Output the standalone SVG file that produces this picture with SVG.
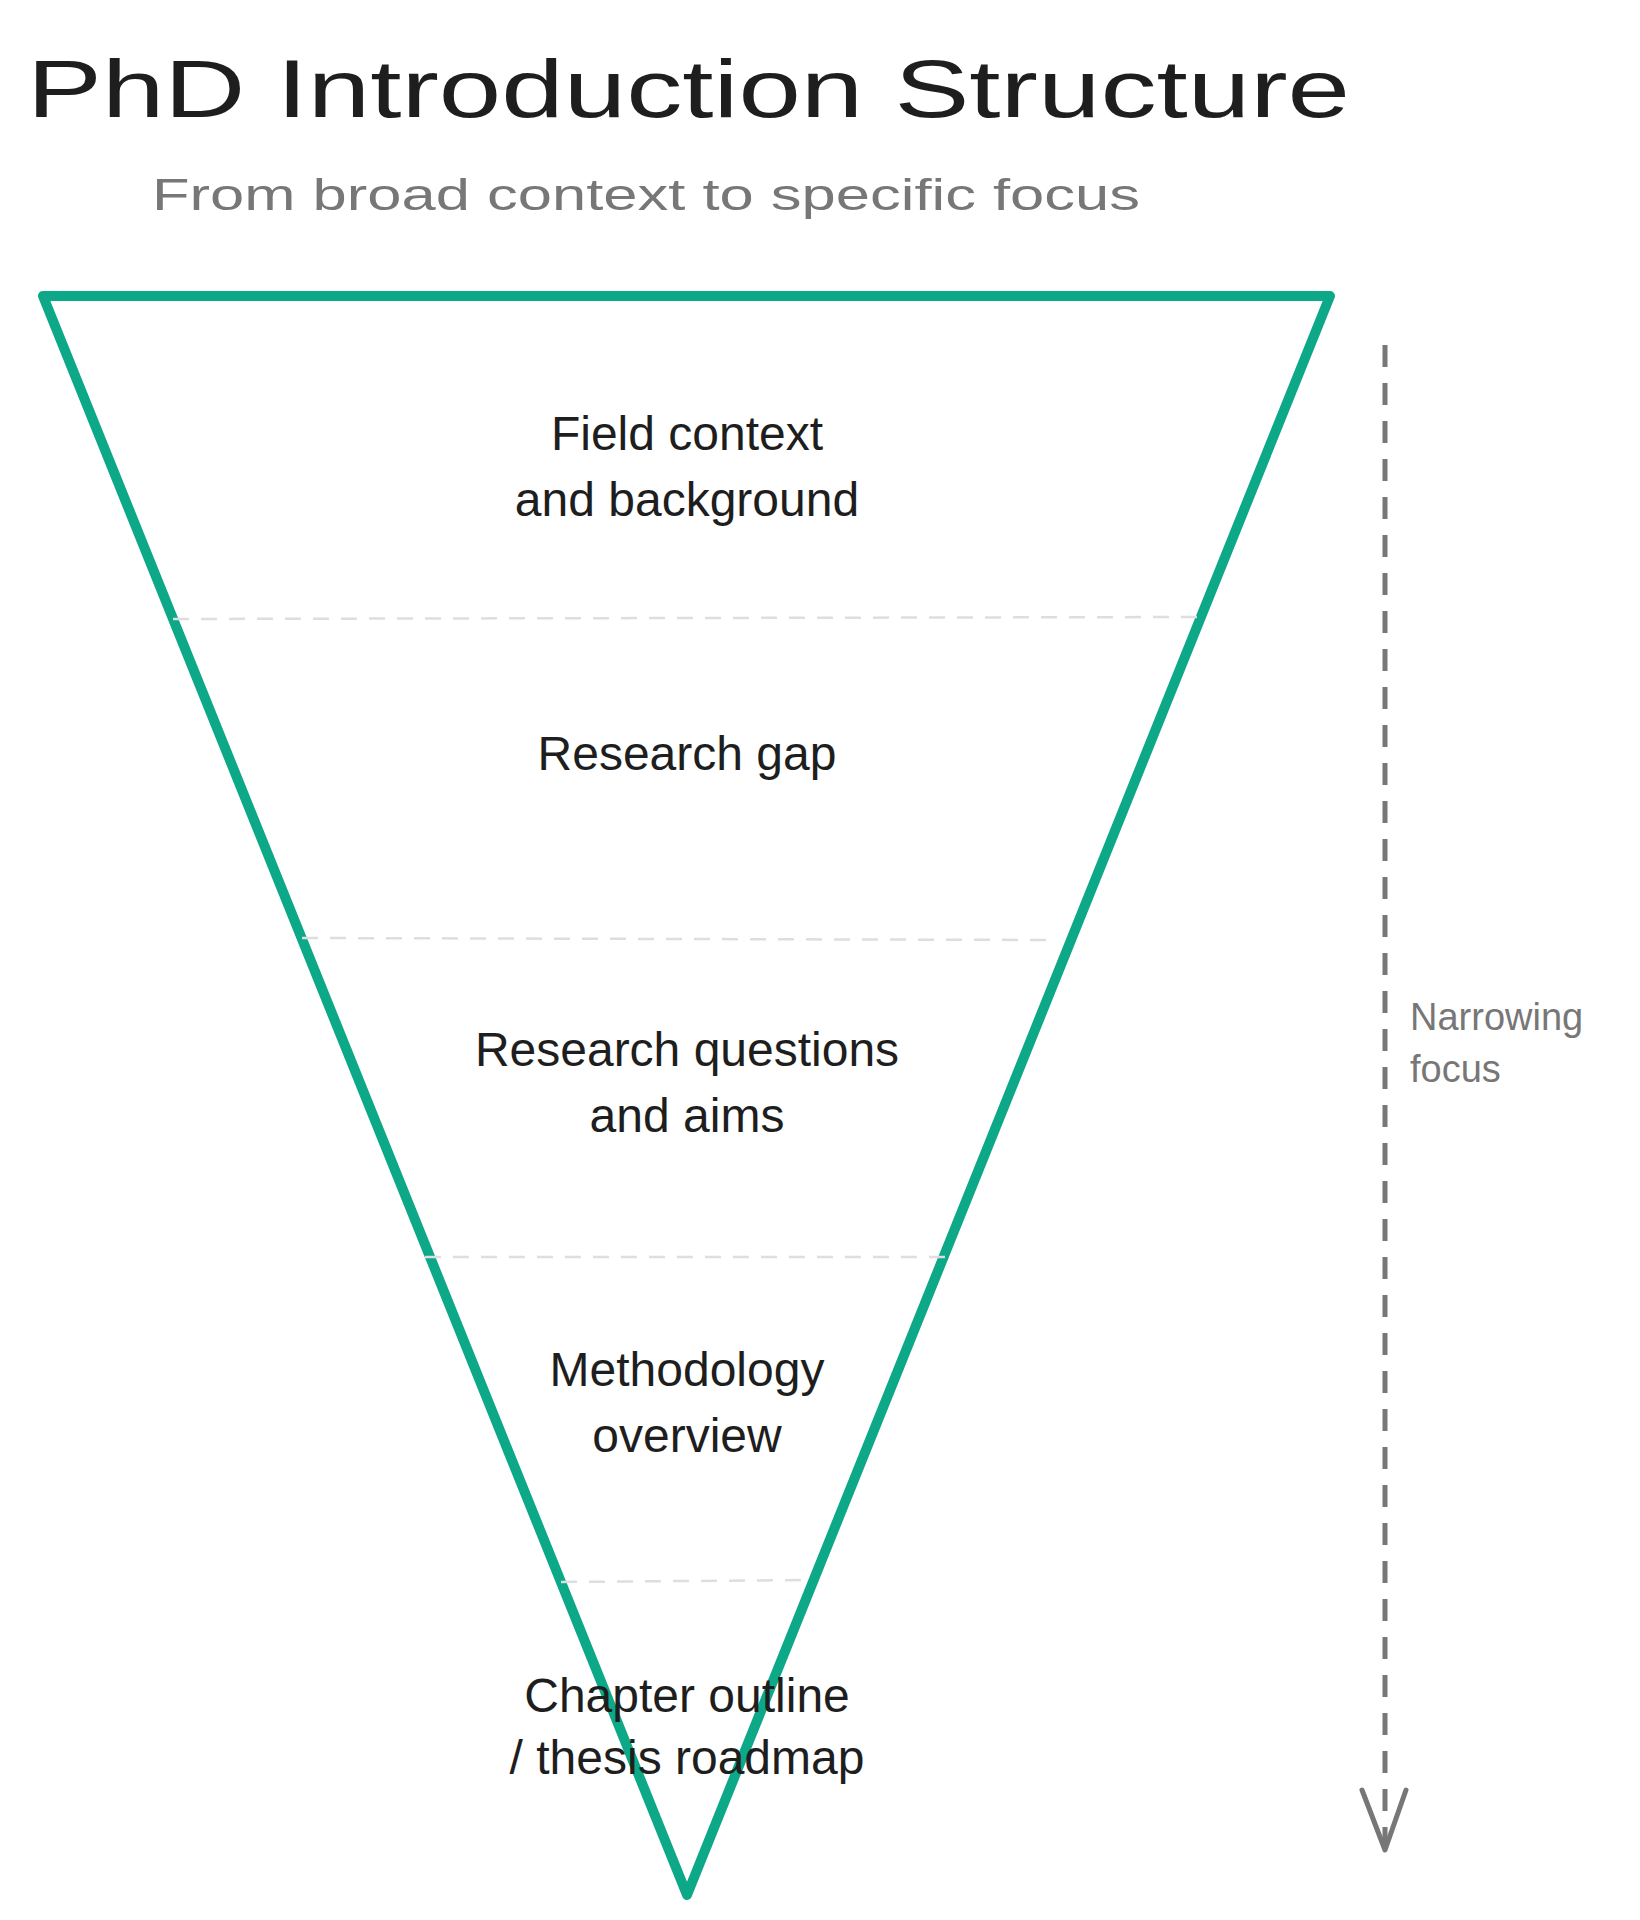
<svg xmlns="http://www.w3.org/2000/svg" width="1640" height="1920" viewBox="0 0 1640 1920">
<style>
.t{font-family:"Liberation Sans",Arial,sans-serif;fill:#1e1e1e;text-anchor:middle;font-size:48px}
.d{stroke:#dedede;stroke-width:2.5;stroke-dasharray:16 12;fill:none}
.g{font-family:"Liberation Sans",Arial,sans-serif;fill:#777}
</style>
<rect width="1640" height="1920" fill="#fff"/>
<text x="27" y="117" font-family="Liberation Sans,Arial,sans-serif" font-size="82" fill="#1e1e1e" textLength="1323" lengthAdjust="spacingAndGlyphs">PhD Introduction Structure</text>
<text class="g" x="152" y="210" font-size="44" textLength="988" lengthAdjust="spacingAndGlyphs">From broad context to specific focus</text>
<g id="funnel">
<path d="M43 296 L1330 296 L687 1895 Z" fill="none" stroke="#0ca888" stroke-width="10" stroke-linejoin="round"/>
</g>
<g id="dividers">
<line class="d" x1="173" y1="619" x2="1200" y2="617"/>
<line class="d" x1="302" y1="938" x2="1058" y2="940"/>
<line class="d" x1="425" y1="1257" x2="945" y2="1257"/>
<line class="d" x1="561" y1="1582" x2="812" y2="1580"/>
</g>
<g id="n1"><text class="t" x="687" y="450">Field context</text><text class="t" x="687" y="516">and background</text></g>
<g id="n2"><text class="t" x="687" y="770">Research gap</text></g>
<g id="n3"><text class="t" x="687" y="1066">Research questions</text><text class="t" x="687" y="1132">and aims</text></g>
<g id="n4"><text class="t" x="687" y="1386">Methodology</text><text class="t" x="687" y="1452">overview</text></g>
<g id="n5"><text class="t" x="687" y="1712">Chapter outline</text><text class="t" x="687" y="1774">/ thesis roadmap</text></g>
<g id="connectors">
<line x1="1385" y1="345" x2="1385" y2="1848" stroke="#777" stroke-width="5" stroke-dasharray="22 16"/>
<path d="M1362 1790 L1385 1850 L1406 1790" fill="none" stroke="#777" stroke-width="5" stroke-linecap="round" stroke-linejoin="round"/>
</g>
<g id="label"><text class="g" x="1410" y="1030" font-size="38">Narrowing</text><text class="g" x="1410" y="1082" font-size="38">focus</text></g>
</svg>
